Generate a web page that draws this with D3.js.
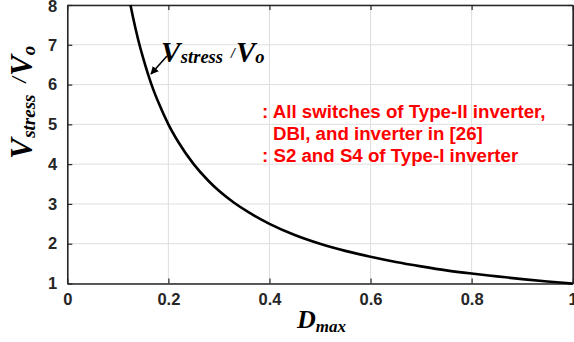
<!DOCTYPE html>
<html>
<head>
<meta charset="utf-8">
<script src="https://cdn.jsdelivr.net/npm/d3@7"></script>
<style>
  html, body { margin: 0; padding: 0; background: #fff; }
  svg { display: block; }
</style>
</head>
<body>
<svg id="chart" width="574" height="342"></svg>
<script>
// Duty ratio and normalised voltage stress
const dmax = [0.125, 0.13, 0.14, 0.15, 0.16, 0.17, 0.18, 0.2, 0.22, 0.25, 0.28, 0.3, 0.33, 0.36, 0.4, 0.45, 0.5, 0.55, 0.6, 0.65, 0.7, 0.75, 0.8, 0.85, 0.9, 0.95, 1.0];
const vstress = [8, 7.69, 7.14, 6.67, 6.25, 5.88, 5.56, 5, 4.55, 4, 3.57, 3.33, 3.03, 2.78, 2.5, 2.22, 2, 1.82, 1.67, 1.54, 1.43, 1.33, 1.25, 1.18, 1.11, 1.05, 1];
const xTicks = [0, 0.2, 0.4, 0.6, 0.8, 1];
const xTickLabels = ["0", "0.2", "0.4", "0.6", "0.8", "1"];
const yTicks = [1, 2, 3, 4, 5, 6, 7, 8];
const noteLines = [": All switches of Type-II inverter,", "DBI, and inverter in [26]", ": S2 and S4 of Type-I inverter"];

const svg = d3.select("#chart");
const L = 67.3, R = 572.7, T = 5, B = 283.5;
const x = d3.scaleLinear().domain([0, 1]).range([L, R]);
const y = d3.scaleLinear().domain([1, 8]).range([B, T]);
const axisColor = "#262626";
const gridColor = "#dedede";

// grid
svg.append("g").selectAll("line").data(xTicks).join("line")
  .attr("x1", d => x(d)).attr("x2", d => x(d)).attr("y1", T).attr("y2", B)
  .attr("stroke", gridColor).attr("stroke-width", 1);
svg.append("g").selectAll("line").data(yTicks).join("line")
  .attr("x1", L).attr("x2", R).attr("y1", d => y(d)).attr("y2", d => y(d))
  .attr("stroke", gridColor).attr("stroke-width", 1);

// axes box (ticks point inward)
const tickFont = "bold 16.5px 'Liberation Sans', Arial, sans-serif";
const xAxis = d3.axisBottom(x).tickValues(xTicks).tickSizeInner(-5).tickSizeOuter(0)
  .tickPadding(10).tickFormat((d, i) => xTickLabels[i]);
const gx = svg.append("g").attr("transform", `translate(0,${B})`).call(xAxis);
const yAxis = d3.axisLeft(y).tickValues(yTicks).tickSizeInner(-5).tickSizeOuter(0)
  .tickPadding(10).tickFormat(d3.format("d"));
const gy = svg.append("g").attr("transform", `translate(${L},0)`).call(yAxis);
const gyR = svg.append("g").attr("transform", `translate(${R},0)`)
  .call(d3.axisRight(y).tickValues(yTicks).tickSizeInner(-5).tickSizeOuter(0).tickFormat(""));
const gxT = svg.append("g").attr("transform", `translate(0,${T})`)
  .call(d3.axisTop(x).tickValues(xTicks).tickSizeInner(-5).tickSizeOuter(0).tickFormat(""));
[gx, gy, gyR, gxT].forEach(g => {
  g.select(".domain").attr("stroke", axisColor).attr("stroke-width", 1.6);
  g.selectAll(".tick line").attr("stroke", axisColor).attr("stroke-width", 1.2);
  g.selectAll(".tick text").style("font", tickFont).attr("fill", axisColor);
});
gy.selectAll(".tick text").filter(d => d === 8).attr("dy", "0.42em");

// curve
svg.append("path")
  .datum(dmax.map((d, i) => [d, vstress[i]]))
  .attr("fill", "none").attr("stroke", "#000").attr("stroke-width", 2.6)
  .attr("d", d3.line().x(d => x(d[0])).y(d => y(d[1])).curve(d3.curveMonotoneX));

// "V_stress / V_o" in serif bold italic
const serif = "'Liberation Serif', 'Times New Roman', serif";
function ratioLabel(t, o) {
  t.style("font-family", serif).style("font-weight", "bold").style("font-style", "italic").attr("fill", "#000");
  t.append("tspan").text("V").style("font-size", o.big + "px");
  t.append("tspan").text("stress").style("font-size", o.sub + "px").attr("dy", o.subDy).attr("dx", 0.5);
  t.append("tspan").text("/").style("font-size", o.slash + "px").attr("dy", o.slashDy - o.subDy).attr("dx", o.gap);
  t.append("tspan").text("V").style("font-size", o.big + "px").attr("dy", -o.slashDy).attr("dx", 1);
  t.append("tspan").text("o").style("font-size", o.sub + "px").attr("dy", o.subDy);
}

// y-axis title
const yt = svg.append("text").attr("transform", "translate(32,159) rotate(-90)");
ratioLabel(yt, { big: 31, sub: 19, subDy: 3, slash: 20, slashDy: -6, gap: 12 });

// x-axis title
const xt = svg.append("text").attr("x", 297).attr("y", 328)
  .style("font-family", serif).style("font-weight", "bold").style("font-style", "italic");
xt.append("tspan").text("D").style("font-size", "26px");
xt.append("tspan").text("max").style("font-size", "17px").attr("dy", 4);

// curve annotation with arrow
const at = svg.append("text").attr("x", 161).attr("y", 61.5);
ratioLabel(at, { big: 29, sub: 18.5, subDy: 1.5, slash: 14, slashDy: -4, gap: 8 });
svg.append("defs").append("marker").attr("id", "ah")
  .attr("viewBox", "0 0 10 10").attr("refX", 9).attr("refY", 5)
  .attr("markerWidth", 5).attr("markerHeight", 5).attr("orient", "auto")
  .append("path").attr("d", "M0,0 L10,5 L0,10 Z").attr("fill", "#000");
svg.append("line").attr("x1", 167).attr("y1", 56).attr("x2", 151).attr("y2", 74)
  .attr("stroke", "#000").attr("stroke-width", 1.6).attr("marker-end", "url(#ah)");

// red note
const nx = [262, 273, 262];
const ny = [117.5, 140, 161.5];
svg.append("g").selectAll("text").data(noteLines).join("text")
  .attr("x", (d, i) => nx[i]).attr("y", (d, i) => ny[i])
  .style("font", "bold 18.7px 'Liberation Sans', Arial, sans-serif")
  .attr("fill", "#ff0000").text(d => d);
</script>
</body>
</html>
